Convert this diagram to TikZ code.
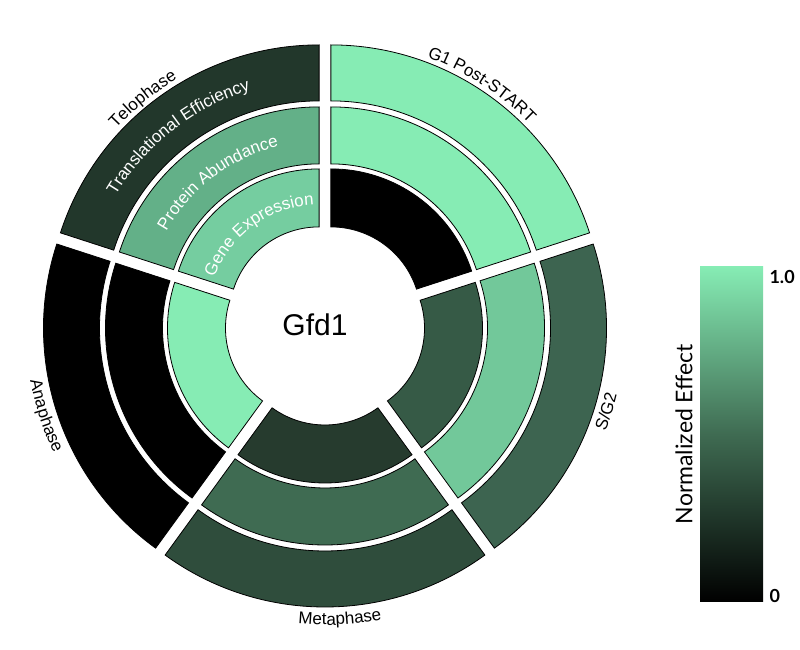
\documentclass[tikz,border=0pt]{standalone}
\usepackage{fontspec}
\setmainfont{Liberation Sans}
\newfontfamily\cbfont{Lato}
\usetikzlibrary{decorations.text,calc}
\definecolor{cLight}{HTML}{86ECB4}
\definecolor{cSa}{HTML}{365A46}
\definecolor{cSb}{HTML}{72C89A}
\definecolor{cSc}{HTML}{3D6450}
\definecolor{cMa}{HTML}{263B2E}
\definecolor{cMb}{HTML}{3F6B52}
\definecolor{cMc}{HTML}{2F4D3C}
\definecolor{cTa}{HTML}{75CDA0}
\definecolor{cTb}{HTML}{63B088}
\definecolor{cTc}{HTML}{22372B}
\definecolor{cMid}{HTML}{3F6B52}
\tikzset{seg/.style={draw=black,line width=0.8pt,line join=miter}}
% #1 mid angle, #2 rin, #3 rout, #4 colour
\newcommand{\mySeg}[4]{%
  \begin{scope}[shift={(#1:10)}]
  \filldraw[seg,fill=#4] (#1+36:#2) arc[start angle=#1+36,end angle=#1-36,radius=#2]
     -- (#1-36:#3) arc[start angle=#1-36,end angle=#1+36,radius=#3] -- cycle;
  \end{scope}}
\newcommand{\myPhase}[4]{\mySeg{#1}{90}{148}{#2}\mySeg{#1}{153}{210}{#3}\mySeg{#1}{216}{272}{#4}}
\newcommand{\cwText}[4]{%
  \begin{scope}[shift={(#2:10)}]
  \path[decorate,decoration={text along path,text align=center,text={#4}}]
     (#1+45:#3) arc[start angle=#1+45,end angle=#1-45,radius=#3];
  \end{scope}}
\newcommand{\ccwText}[4]{%
  \begin{scope}[shift={(#2:10)}]
  \path[decorate,decoration={text along path,text align=center,text={#4}}]
     (#1-45:#3) arc[start angle=#1-45,end angle=#1+45,radius=#3];
  \end{scope}}
\begin{document}
\begin{tikzpicture}[x=1pt,y=1pt]
\useasboundingbox (0,0) rectangle (800,650);
\fill[white] (0,0) rectangle (800,650);
\begin{scope}[shift={(325,325)}]
\myPhase{54}{black}{cLight}{cLight}
\myPhase{-18}{cSa}{cSb}{cSc}
\myPhase{-90}{cMa}{cMb}{cMc}
\myPhase{-162}{cLight}{black}{black}
\myPhase{126}{cTa}{cTb}{cTc}
\node[font=\fontsize{30}{30}\selectfont] (gfd) at (-10,0) {Gfd1};
\cwText{126}{126}{112}{|\color{white}\fontsize{17}{17}\selectfont|Gene Expression}
\cwText{127}{126}{175}{|\color{white}\fontsize{17}{17}\selectfont|Protein Abundance}
\cwText{128}{126}{237}{|\color{white}\fontsize{17}{17}\selectfont|Translational Efficiency}
\cwText{129}{126}{277}{|\fontsize{17}{17}\selectfont|Telophase}
\cwText{57}{54}{277}{|\fontsize{17}{17}\selectfont|G1 Post-START}
\ccwText{-17}{-18}{290}{|\fontsize{17}{17}\selectfont|S/G2}
\ccwText{-87}{-90}{290}{|\fontsize{17}{17}\selectfont|Metaphase}
\ccwText{-162}{-162}{290}{|\fontsize{17}{17}\selectfont|Anaphase}
\end{scope}
% colour bar
\shade[bottom color=black,top color=cLight,middle color=cMid] (700,48) rectangle (763,383);
\node[font=\cbfont\bfseries\fontsize{18}{18}\selectfont,anchor=west] (one) at (766,373) {1.0};
\node[font=\cbfont\bfseries\fontsize{18}{18}\selectfont,anchor=west] (zero) at (766,54) {0};
\node[font=\cbfont\fontsize{23}{23}\selectfont,rotate=90] (lab) at (684,216) {Normalized Effect};
\end{tikzpicture}
\end{document}
